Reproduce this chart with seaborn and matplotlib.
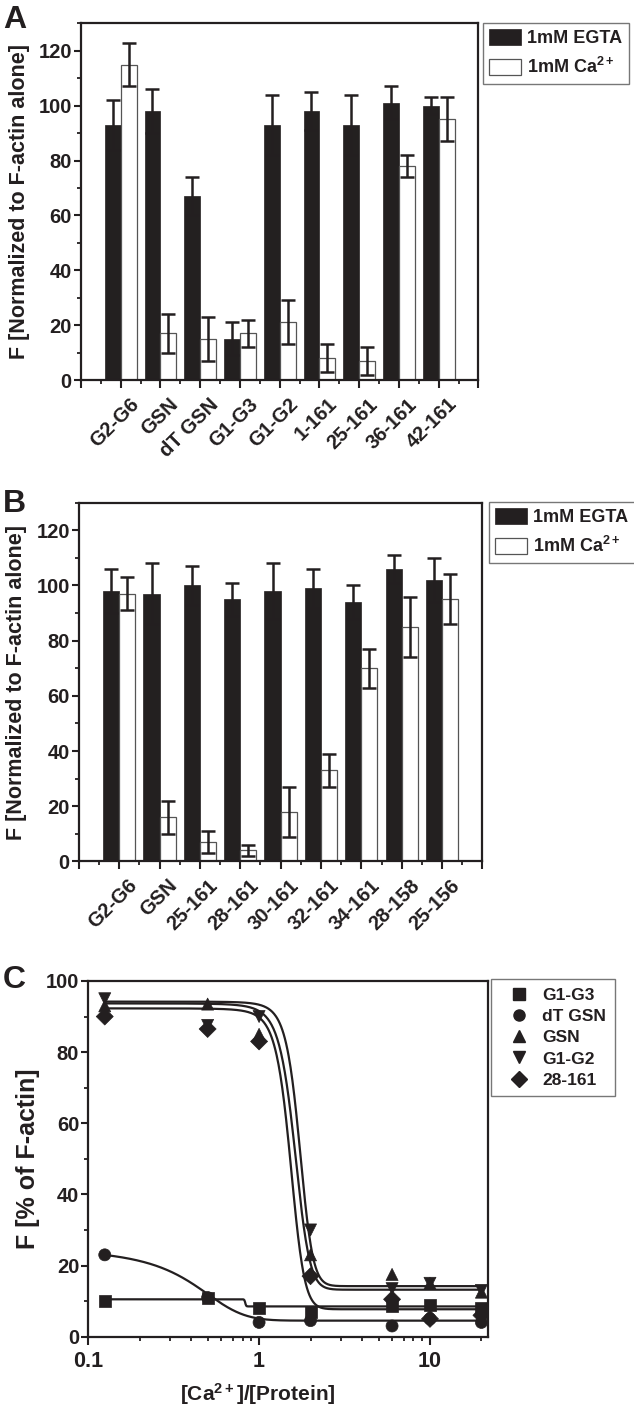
import matplotlib

matplotlib.use("Agg")
import matplotlib.pyplot as plt
import matplotlib.transforms as mtransforms
import numpy as np
import pandas as pd
import seaborn as sns
from matplotlib.lines import Line2D
from matplotlib.patches import Patch
from matplotlib.ticker import FixedLocator, MultipleLocator, NullFormatter

# panel A
A_LABELS = ["G2-G6", "GSN", "dT GSN", "G1-G3", "G1-G2", "1-161", "25-161", "36-161", "42-161"]
A_EGTA = [93, 98, 67, 15, 93, 98, 93, 101, 100]
A_EGTA_ERR = [9, 8, 7, 6, 11, 7, 11, 6, 3]
A_CA = [115, 17, 15, 17, 21, 8, 7, 78, 95]
A_CA_ERR = [8, 7, 8, 5, 8, 5, 5, 4, 8]

# panel B
B_LABELS = ["G2-G6", "GSN", "25-161", "28-161", "30-161", "32-161", "34-161", "28-158", "25-156"]
B_EGTA = [98, 97, 100, 95, 98, 99, 94, 106, 102]
B_EGTA_ERR = [8, 11, 7, 6, 10, 7, 6, 5, 8]
B_CA = [97, 16, 7, 4, 18, 33, 70, 85, 95]
B_CA_ERR = [6, 6, 4, 2, 9, 6, 7, 11, 9]

# panel C
C_RATIO = [0.125, 0.5, 1, 2, 6, 10, 20]
C_SERIES = ["G1-G3", "dT GSN", "GSN", "G1-G2", "28-161"]
C_G1G3 = [10, 11, 8, 7, 8.5, 9, 8]
C_DTGSN = [23, 11, 4, 4.5, 3, 5, 4]
C_GSN = [93, 93.5, 85, 23, 17.5, 15, 12.5]
C_G1G2 = [95, 87.5, 90, 30, 13.5, 15, 13]
C_28161 = [90, 86.5, 83, 17, 10.5, 5, 6]
C_MARKERS = ["s", "o", "^", "v", "D"]

# Boltzmann fit parameters: top, bottom, x0, dx
FIT_G1G3 = (10.5, 8.5, 0.83, 0.005)
FIT_DTGSN = (27.1, 4.5, 0.38, 0.17)
FIT_GSN = (93.7, 13.2, 1.61, 0.17)
FIT_G1G2 = (94.2, 14.2, 1.72, 0.16)
FIT_28161 = (92.3, 7.7, 1.52, 0.15)

INK = "#231f20"

sns.set_style("ticks")
plt.rcParams.update({
    "font.family": ["Liberation Sans", "DejaVu Sans"],
    "font.weight": "bold",
    "axes.labelweight": "bold",
    "mathtext.fontset": "custom",
    "mathtext.rm": "Liberation Sans:bold",
    "mathtext.it": "Liberation Sans:bold",
    "mathtext.bf": "Liberation Sans:bold",
    "mathtext.default": "rm",
    "axes.edgecolor": INK,
    "axes.linewidth": 1.6,
    "xtick.color": INK,
    "ytick.color": INK,
    "xtick.major.size": 5.5,
    "ytick.major.size": 5,
    "xtick.minor.size": 3,
    "ytick.minor.size": 3,
    "xtick.major.width": 1.5,
    "ytick.major.width": 1.5,
    "xtick.minor.width": 1.3,
    "ytick.minor.width": 1.3,
    "ytick.major.pad": 1.5,
    "xtick.major.pad": 3,
    "xtick.labelsize": 14.5,
    "ytick.labelsize": 14.5,
    "axes.labelsize": 15.5,
    "text.color": INK,
    "axes.labelcolor": INK,
})


def boltzmann(x, fit):
    top, bottom, x0, dx = fit
    return bottom + (top - bottom) / (1 + np.exp((x - x0) / dx))


def bar_panel(ax, labels, egta, egta_err, ca, ca_err):
    n = len(labels)
    df = pd.DataFrame({
        "construct": labels * 2,
        "condition": ["EGTA"] * n + ["Ca"] * n,
        "value": egta + ca,
    })
    sns.barplot(data=df, x="construct", y="value", hue="condition", order=labels,
                hue_order=["EGTA", "Ca"], palette={"EGTA": INK, "Ca": "white"},
                width=0.8, errorbar=None, legend=False, ax=ax)
    for bar in ax.patches:
        if bar.get_facecolor()[0] > 0.5:
            bar.set_edgecolor("#555555")
            bar.set_linewidth(0.9)
        else:
            bar.set_edgecolor(INK)
            bar.set_linewidth(0.5)
    pos = np.arange(n)
    for offset, vals, errs in [(-0.2, egta, egta_err), (0.2, ca, ca_err)]:
        ax.errorbar(pos + offset, vals, yerr=errs, fmt="none", ecolor=INK,
                    elinewidth=1.8, capsize=5.3, capthick=1.8, zorder=4)
    ax.set_xlim(-1, 9)
    ax.set_ylim(0, 130)
    ax.xaxis.set_major_locator(FixedLocator(range(-1, 10)))
    ax.set_xticklabels([""] + labels + [""], rotation=45, ha="right",
                       rotation_mode="anchor")
    shift = mtransforms.ScaledTranslation(6 / 72, -2 / 72, ax.figure.dpi_scale_trans)
    for lab in ax.get_xticklabels():
        lab.set_transform(lab.get_transform() + shift)
    ax.xaxis.set_minor_locator(FixedLocator(np.arange(-0.5, 9, 1)))
    ax.yaxis.set_major_locator(FixedLocator(range(0, 121, 20)))
    ax.yaxis.set_minor_locator(MultipleLocator(10))
    ax.set_xlabel("")
    ax.set_ylabel("F [Normalized to F-actin alone]")
    ax.yaxis.set_label_coords(-0.128, 0.5)
    for s in ax.spines.values():
        s.set_visible(True)


def bar_legend(fig, x, y):
    handles = [Patch(facecolor=INK, edgecolor=INK, linewidth=0.5),
               Patch(facecolor="white", edgecolor="#555555", linewidth=0.9)]
    leg = fig.legend(handles, ["1mM EGTA", "1mM Ca$^{2+}$"], loc="upper left",
                     bbox_to_anchor=(x, y), bbox_transform=fig.transFigure,
                     fontsize=13, frameon=True, fancybox=False, borderpad=0.35,
                     handlelength=1.75, handleheight=0.95, handletextpad=0.35,
                     labelspacing=0.55, borderaxespad=0)
    leg.get_frame().set_edgecolor("#555555")
    leg.get_frame().set_linewidth(1.0)


fig = plt.figure(figsize=(6.34, 14.07), dpi=100)
fig.patch.set_facecolor("white")

ax_a = fig.add_axes([0.1276, 0.7299, 0.627, 0.2535])
ax_b = fig.add_axes([0.1244, 0.3878, 0.6365, 0.2549])
ax_c = fig.add_axes([0.1391, 0.0500, 0.6314, 0.2528])

bar_panel(ax_a, A_LABELS, A_EGTA, A_EGTA_ERR, A_CA, A_CA_ERR)
bar_panel(ax_b, B_LABELS, B_EGTA, B_EGTA_ERR, B_CA, B_CA_ERR)
bar_legend(fig, 483 / 634, 1 - 23 / 1407)
bar_legend(fig, 489 / 634, 1 - 502 / 1407)

# panel C
c_values = [C_G1G3, C_DTGSN, C_GSN, C_G1G2, C_28161]
c_fits = [FIT_G1G3, FIT_DTGSN, FIT_GSN, FIT_G1G2, FIT_28161]
points = pd.DataFrame({
    "ratio": C_RATIO * len(C_SERIES),
    "F": sum(c_values, []),
    "series": [s for s in C_SERIES for _ in C_RATIO],
})
grid = np.logspace(np.log10(0.125), np.log10(20.5), 600)
curves = pd.DataFrame({
    "ratio": np.tile(grid, len(C_SERIES)),
    "F": np.concatenate([boltzmann(grid, f) for f in c_fits]),
    "series": np.repeat(C_SERIES, len(grid)),
})
sns.lineplot(data=curves, x="ratio", y="F", units="series", estimator=None,
             color=INK, linewidth=1.6, ax=ax_c)
sns.scatterplot(data=points, x="ratio", y="F", style="series", style_order=C_SERIES,
                markers=dict(zip(C_SERIES, C_MARKERS)), color=INK, s=75,
                edgecolor=INK, linewidth=0.5, legend=False, zorder=5, ax=ax_c)
ax_c.set_xscale("log")
ax_c.set_xlim(0.1, 22)
ax_c.set_ylim(0, 100)
ax_c.xaxis.set_major_locator(FixedLocator([0.1, 1, 10]))
ax_c.set_xticklabels(["0.1", "1", "10"])
ax_c.xaxis.set_minor_locator(FixedLocator(
    [m * d for d in (0.1, 1, 10) for m in range(2, 10) if m * d <= 22]))
ax_c.xaxis.set_minor_formatter(NullFormatter())
ax_c.tick_params(axis="x", which="major", pad=5, labelsize=15.5)
ax_c.yaxis.set_major_locator(FixedLocator(range(0, 101, 20)))
ax_c.yaxis.set_minor_locator(MultipleLocator(10))
ax_c.set_xlabel("[Ca$^{2+}$]/[Protein]", fontsize=15)
ax_c.xaxis.set_label_coords(0.424, -0.124)
ax_c.set_ylabel("F [% of F-actin]", fontsize=18)
ax_c.yaxis.set_label_coords(-0.12, 0.5)

c_handles = [Line2D([], [], marker=m, linestyle="none", color=INK, markersize=8)
             for m in C_MARKERS]
leg_c = fig.legend(c_handles, C_SERIES, loc="upper left",
                   bbox_to_anchor=(491 / 634, 1 - 979 / 1407),
                   bbox_transform=fig.transFigure, fontsize=12.5, frameon=True,
                   fancybox=False, borderpad=0.5, handlelength=2.2,
                   handletextpad=0.25, labelspacing=0.35, borderaxespad=0)
leg_c.get_frame().set_edgecolor("#555555")
leg_c.get_frame().set_linewidth(1.0)

for letter, y in [("A", 28), ("B", 512), ("C", 988)]:
    fig.text(3 / 634, 1 - y / 1407, letter, fontsize=23, fontweight="bold",
             va="baseline", ha="left")

fig.savefig("out.png", dpi=100)
